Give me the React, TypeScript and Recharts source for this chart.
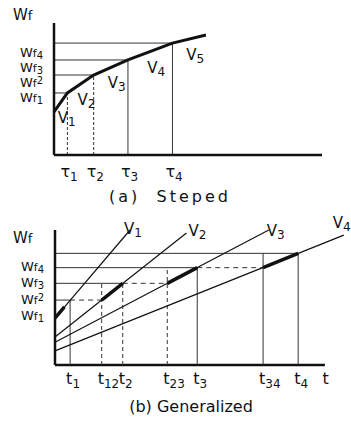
import React from "react";
import { ComposedChart, Line, XAxis, YAxis, ReferenceLine, ReferenceDot } from "recharts";

// (a) Steped
const tauTicks = [5.0, 14.8, 27.6, 44.2];
const tauLabels = ["τ1", "τ2", "τ3", "τ4"];
const wfSteps = [47.0, 60.6, 72.0, 84.8];
const wfStart = 32.6;
const curveEnd = { x: 56.7, y: 90.9 };
const wfTicksA = [43.9, 55.3, 66.7, 78.0];
const stepLabels = ["V1", "V2", "V3", "V4", "V5"];

// (b) Generalized
const tEnd = [5.6, 25.1, 52.7, 90.1]; // t1..t4
const tJoin = [17.3, 41.6, 77.1]; // t12, t23, t34
const tAxisEnd = 100.6;
const wfLevels = [48.1, 60.5, 72.1, 82.7];
const vStart = [34.8, 20.8, 16.8, 10.5];
const vEnd = [
  { x: 27.8, y: 100 },
  { x: 48.7, y: 97.8 },
  { x: 79.2, y: 100 },
  { x: 107, y: 96.2 },
];
const v1ThickEnd = { x: 3.5, y: 43.0 };
const tLabelsB = ["t1", "t12", "t2", "t23", "t3", "t34", "t4", "t"];
const wfTicksB = [37.0, 48.9, 61.5, 73.3];
const wfLabels = ["Wf1", "Wf2", "Wf3", "Wf4"];
const lineLabels = ["V1", "V2", "V3", "V4"];

const FONT = "DejaVu Sans";
const INK = "#111";

const curveA = [
  { x: 0, y: wfStart },
  ...tauTicks.map((t, i) => ({ x: t, y: wfSteps[i] })),
  curveEnd,
];
const midsA = curveA.slice(1).map((p, i) => ({
  x: (p.x + curveA[i].x) / 2,
  y: (p.y + curveA[i].y) / 2,
}));

const tTicksB = [tEnd[0], tJoin[0], tEnd[1], tJoin[1], tEnd[2], tJoin[2], tEnd[3], tAxisEnd];
const vLines = vStart.map((y0, i) => [{ x: 0, y: y0 }, vEnd[i]]);
const thickB = [
  [{ x: 0, y: vStart[0] }, v1ThickEnd],
  ...tJoin.map((tj, i) => [
    { x: tj, y: wfLevels[i] },
    { x: tEnd[i + 1], y: wfLevels[i + 1] },
  ]),
];
const vertDashB = [false, true, true, true, false, false, false];
const vLabelShift = [
  [-6, 4],
  [2, 3],
  [-2, 6],
  [-11, -7],
];

const SubLabel = ({ x, y, text, size, subSize, subDy }: any) => (
  <text x={x} y={y} fontFamily={FONT} fill={INK} textAnchor="start">
    <tspan fontSize={size}>{text[0]}</tspan>
    <tspan fontSize={subSize} dy={subDy}>{text.slice(1)}</tspan>
  </text>
);

const WfLabel = ({ x, y, text }: any) => (
  <text x={x} y={y} fontFamily={FONT} fill={INK} textAnchor="end">
    <tspan fontSize={13}>W</tspan>
    <tspan fontSize={11}>f</tspan>
    <tspan fontSize={10} dy={text.endsWith("2") ? -3 : 2}>{text.slice(2)}</tspan>
  </text>
);

const makeXTick = (ticks: number[], labels: string[], dy: number, dx: number) => (props: any) => {
  const label = labels[ticks.indexOf(props.payload.value)] ?? "";
  return <SubLabel x={props.x + dx} y={props.y + dy} text={label} size={16} subSize={12} subDy={4} />;
};

const makeYTick = (ticks: number[]) => (props: any) => {
  const label = wfLabels[ticks.indexOf(props.payload.value)] ?? "";
  return <WfLabel x={props.x - 11} y={props.y + 5} text={label} />;
};

const guide = { stroke: "#333", strokeWidth: 1, ifOverflow: "visible" as const };

const Steped = () => (
  <ComposedChart width={351} height={210} margin={{ top: 23, right: 29, bottom: 0, left: 0 }}>
    <XAxis
      type="number"
      dataKey="x"
      domain={[0, 100]}
      ticks={tauTicks}
      interval={0}
      tick={makeXTick(tauTicks, tauLabels, 22, -7)}
      tickLine={false}
      tickSize={0}
      tickMargin={0}
      height={55}
      axisLine={{ stroke: INK, strokeWidth: 2.5 }}
    />
    <YAxis
      type="number"
      domain={[0, 100]}
      ticks={wfTicksA}
      interval={0}
      tick={makeYTick(wfTicksA)}
      tickLine={false}
      tickSize={0}
      tickMargin={0}
      width={54}
      axisLine={{ stroke: INK, strokeWidth: 2.5 }}
    />
    {tauTicks.map((t, i) => (
      <ReferenceLine key={"h" + i} segment={[{ x: 0, y: wfSteps[i] }, { x: t, y: wfSteps[i] }]} {...guide} />
    ))}
    {tauTicks.map((t, i) => (
      <ReferenceLine
        key={"v" + i}
        segment={[{ x: t, y: 0 }, { x: t, y: wfSteps[i] }]}
        {...guide}
        strokeDasharray={i < 2 ? "3 2" : undefined}
      />
    ))}
    <Line data={curveA} dataKey="y" type="linear" stroke={INK} strokeWidth={3} dot={false} isAnimationActive={false} />
    {midsA.map((m, i) => (
      <ReferenceDot
        key={"l" + i}
        x={m.x}
        y={m.y}
        r={0}
        ifOverflow="visible"
        shape={(p: any) => (
          <SubLabel x={p.cx - 3} y={p.cy + 21} text={stepLabels[i]} size={15} subSize={12} subDy={3} />
        )}
      />
    ))}
  </ComposedChart>
);

const Generalized = () => (
  <ComposedChart width={351} height={216} margin={{ top: 20, right: 1, bottom: 0, left: 0 }}>
    <XAxis
      type="number"
      dataKey="x"
      domain={[0, 109.3]}
      ticks={tTicksB}
      interval={0}
      tick={makeXTick(tTicksB, tLabelsB, 19, -4)}
      tickLine={false}
      tickSize={0}
      tickMargin={0}
      height={61}
      axisLine={false}
    />
    <YAxis
      type="number"
      domain={[0, 100]}
      ticks={wfTicksB}
      interval={0}
      tick={makeYTick(wfTicksB)}
      tickLine={false}
      tickSize={0}
      tickMargin={0}
      width={55}
      axisLine={{ stroke: INK, strokeWidth: 2.5 }}
    />
    <ReferenceLine segment={[{ x: 0, y: 0 }, { x: 100, y: 0 }]} stroke={INK} strokeWidth={2.5} ifOverflow="visible" />
    {wfLevels.map((w, i) => (
      <ReferenceLine key={"hs" + i} segment={[{ x: 0, y: w }, { x: tEnd[i], y: w }]} {...guide} />
    ))}
    {tJoin.map((tj, i) => (
      <ReferenceLine
        key={"hd" + i}
        segment={[{ x: tEnd[i], y: wfLevels[i] }, { x: tj, y: wfLevels[i] }]}
        {...guide}
        strokeDasharray="5 4"
      />
    ))}
    {tTicksB.slice(0, 7).map((t, i) => (
      <ReferenceLine
        key={"vt" + i}
        segment={[{ x: t, y: 0 }, { x: t, y: wfLevels[Math.ceil(i / 2)] }]}
        {...guide}
        strokeDasharray={vertDashB[i] ? "4 3" : undefined}
      />
    ))}
    {vLines.map((d, i) => (
      <Line key={"vl" + i} data={d} dataKey="y" type="linear" stroke={INK} strokeWidth={1.2} dot={false} isAnimationActive={false} />
    ))}
    {thickB.map((d, i) => (
      <Line key={"th" + i} data={d} dataKey="y" type="linear" stroke={INK} strokeWidth={3.5} dot={false} isAnimationActive={false} />
    ))}
    {vEnd.map((e, i) => (
      <ReferenceDot
        key={"ll" + i}
        x={e.x}
        y={e.y}
        r={0}
        ifOverflow="visible"
        shape={(p: any) => (
          <SubLabel
            x={p.cx + vLabelShift[i][0]}
            y={p.cy + vLabelShift[i][1]}
            text={lineLabels[i]}
            size={15}
            subSize={12}
            subDy={3}
          />
        )}
      />
    ))}
  </ComposedChart>
);

const caption: React.CSSProperties = {
  position: "absolute",
  width: 300,
  textAlign: "center",
  fontFamily: FONT,
  fontSize: 16,
  lineHeight: "16px",
  color: INK,
  whiteSpace: "pre",
};

const axisTitle: React.CSSProperties = {
  position: "absolute",
  left: 13,
  fontFamily: FONT,
  lineHeight: "16px",
  color: INK,
};

export default function App() {
  return (
    <div style={{ position: "absolute", left: 0, top: 0, width: 351, height: 426, background: "#fff" }}>
      <div style={{ position: "absolute", left: 0, top: 0 }}>
        <Steped />
      </div>
      <div style={{ position: "absolute", left: 0, top: 210 }}>
        <Generalized />
      </div>
      <div style={{ ...axisTitle, top: 7 }}>
        <span style={{ fontSize: 15 }}>W</span>
        <span style={{ fontSize: 13 }}>f</span>
      </div>
      <div style={{ ...axisTitle, top: 230 }}>
        <span style={{ fontSize: 15 }}>W</span>
        <span style={{ fontSize: 13 }}>f</span>
      </div>
      <div style={{ ...caption, left: 20, top: 189, letterSpacing: 3 }}>{"(a)  Steped"}</div>
      <div style={{ ...caption, left: 41, top: 399 }}>{"(b) Generalized"}</div>
    </div>
  );
}
